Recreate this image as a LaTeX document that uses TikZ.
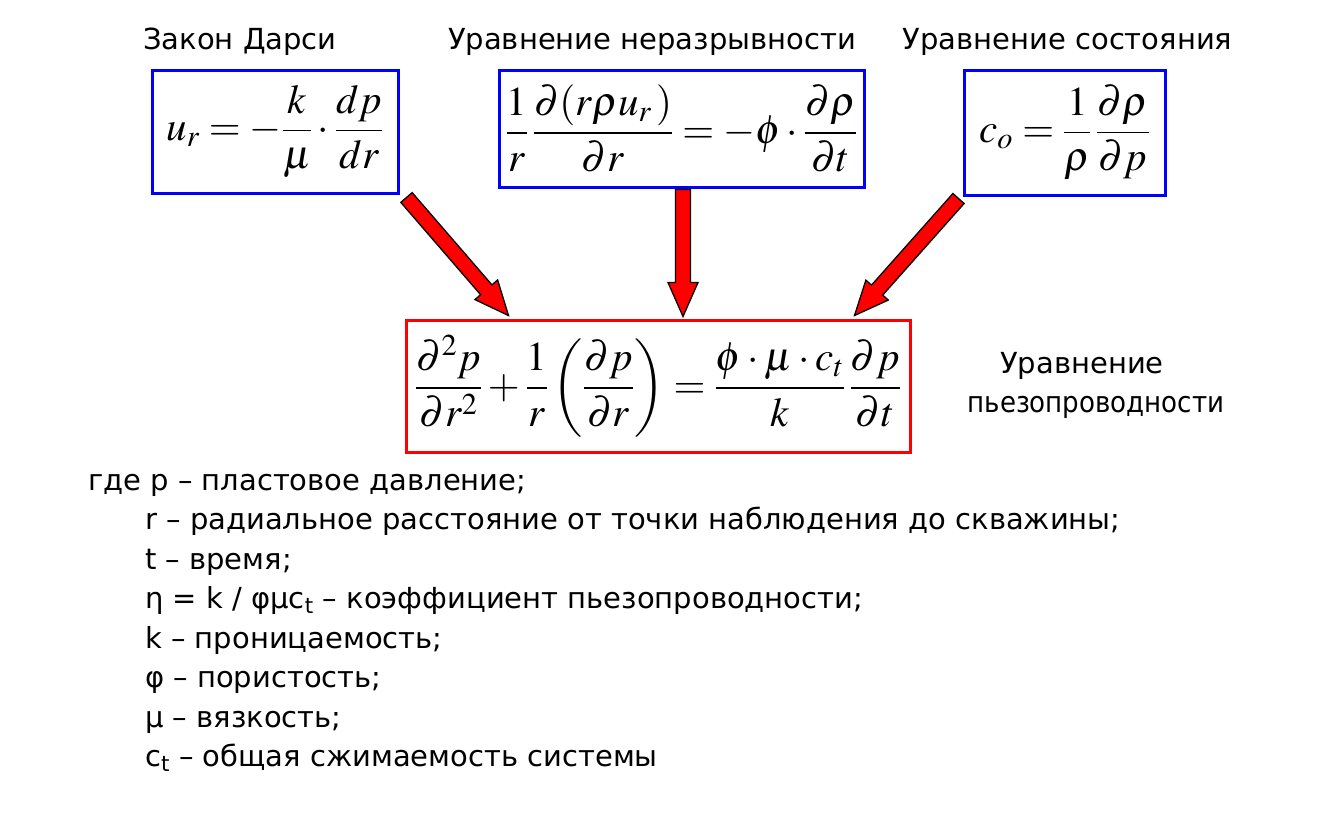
\documentclass[tikz,border=0pt]{standalone}
\usepackage{amsmath}
\usepackage{mathptmx}
\usepackage{fontspec}
\setmainfont{DejaVu Sans}
\newfontfamily\narrowfont{DejaVu Sans}[FakeStretch=0.9]
\usetikzlibrary{calc}
\definecolor{pblue}{RGB}{0,0,255}
\definecolor{pred}{RGB}{255,0,0}
\tikzset{
  eqbox/.style={draw=pblue, line width=3pt, inner sep=0pt, align=center, font=\fontsize{41}{48}\selectfont},
  redbox/.style={eqbox, draw=pred},
  ttl/.style={anchor=base, inner sep=0pt, font=\fontsize{29}{35}\selectfont},
  itm/.style={anchor=base west, inner sep=0pt, font=\fontsize{29}{35}\selectfont},
  fat/.style={fill=pred, draw=black, line width=1.3pt, line join=miter},
}
\newcommand\fatarrow[3]{%
  \coordinate (#3h) at ($(#2)!34pt!(#1)$);
  \path[fat] ($(#1)!7.5pt!90:(#2)$) -- ($(#3h)!7.5pt!90:(#2)$) -- ($(#3h)!15pt!90:(#2)$)
    -- (#2) -- ($(#3h)!15pt!-90:(#2)$) -- ($(#3h)!7.5pt!-90:(#2)$) -- ($(#1)!7.5pt!-90:(#2)$) -- cycle;
}
\begin{document}
\begin{tikzpicture}[x=1pt,y=-1pt]
\useasboundingbox (0,0) rectangle (1332,820);
% titles
\node[ttl] (t1) at (240,49) {Закон Дарси};
\node[ttl] (t2) at (652,49) {Уравнение неразрывности};
\node[ttl] (t3) at (1067.5,49) {Уравнение состояния};
% boxes
\node[eqbox, minimum width=246pt, minimum height=123pt] (darcy) at (275,131.5)
  {$u_r = -\dfrac{k}{\mu}\cdot\dfrac{dp}{dr}$};
\node[eqbox, minimum width=365pt, minimum height=117pt] (cont) at (681.5,128.5)
  {$\dfrac{1}{r}\,\dfrac{\partial{\left(r\rho u_r\,\right)}}{\partial r} = -\phi\cdot\dfrac{\partial\rho}{\partial t}$};
\node[eqbox, minimum width=201pt, minimum height=125pt] (state) at (1064.5,132.5)
  {$c_o = \dfrac{1}{\rho}\,\dfrac{\partial\rho}{\partial p}$};
\node[redbox, minimum width=504pt, minimum height=132pt] (piezo) at (658,386)
  {$\dfrac{\partial^2 p}{\partial r^2} + \dfrac{1}{r}\left(\dfrac{\partial p}{\partial r}\right) = \dfrac{\phi\cdot\mu\cdot c_t}{k}\,\dfrac{\partial p}{\partial t}$};
% right label
\node[ttl] (p1) at (1082,373) {Уравнение};
\node[ttl] (p2) at (1096,412) {\narrowfont пьезопроводности};
% arrow ends
\coordinate (s1) at ([xshift=7pt,yshift=-3pt]darcy.south east);
\coordinate (s2) at ([xshift=1.5pt,yshift=-1pt]cont.south);
\coordinate (s3) at ([xshift=-4pt,yshift=-2pt]state.south west);
\coordinate (e1) at ([xshift=104pt,yshift=3pt]piezo.north west);
\coordinate (e2) at ([xshift=25pt,yshift=2pt]piezo.north);
\coordinate (e3) at ([xshift=-57pt,yshift=3pt]piezo.north east);
\fatarrow{s1}{e1}{a}
\fatarrow{s2}{e2}{b}
\fatarrow{s3}{e3}{c}
% legend
\node[itm] (l1) at (88,490) {где p – пластовое давление;};
\node[itm] (l2) at (145,529.5) {r – радиальное расстояние от точки наблюдения до скважины;};
\node[itm] (l3) at (145,569) {t – время;};
\node[itm] (l4) at (145,608.5) {η = k / φμc\textsubscript{t} – коэффициент пьезопроводности;};
\node[itm] (l5) at (145,648) {k – проницаемость;};
\node[itm] (l6) at (145,687.5) {φ – пористость;};
\node[itm] (l7) at (145,727) {μ – вязкость;};
\node[itm] (l8) at (145,766.5) {c\textsubscript{t} – общая сжимаемость системы};
\end{tikzpicture}
\end{document}
